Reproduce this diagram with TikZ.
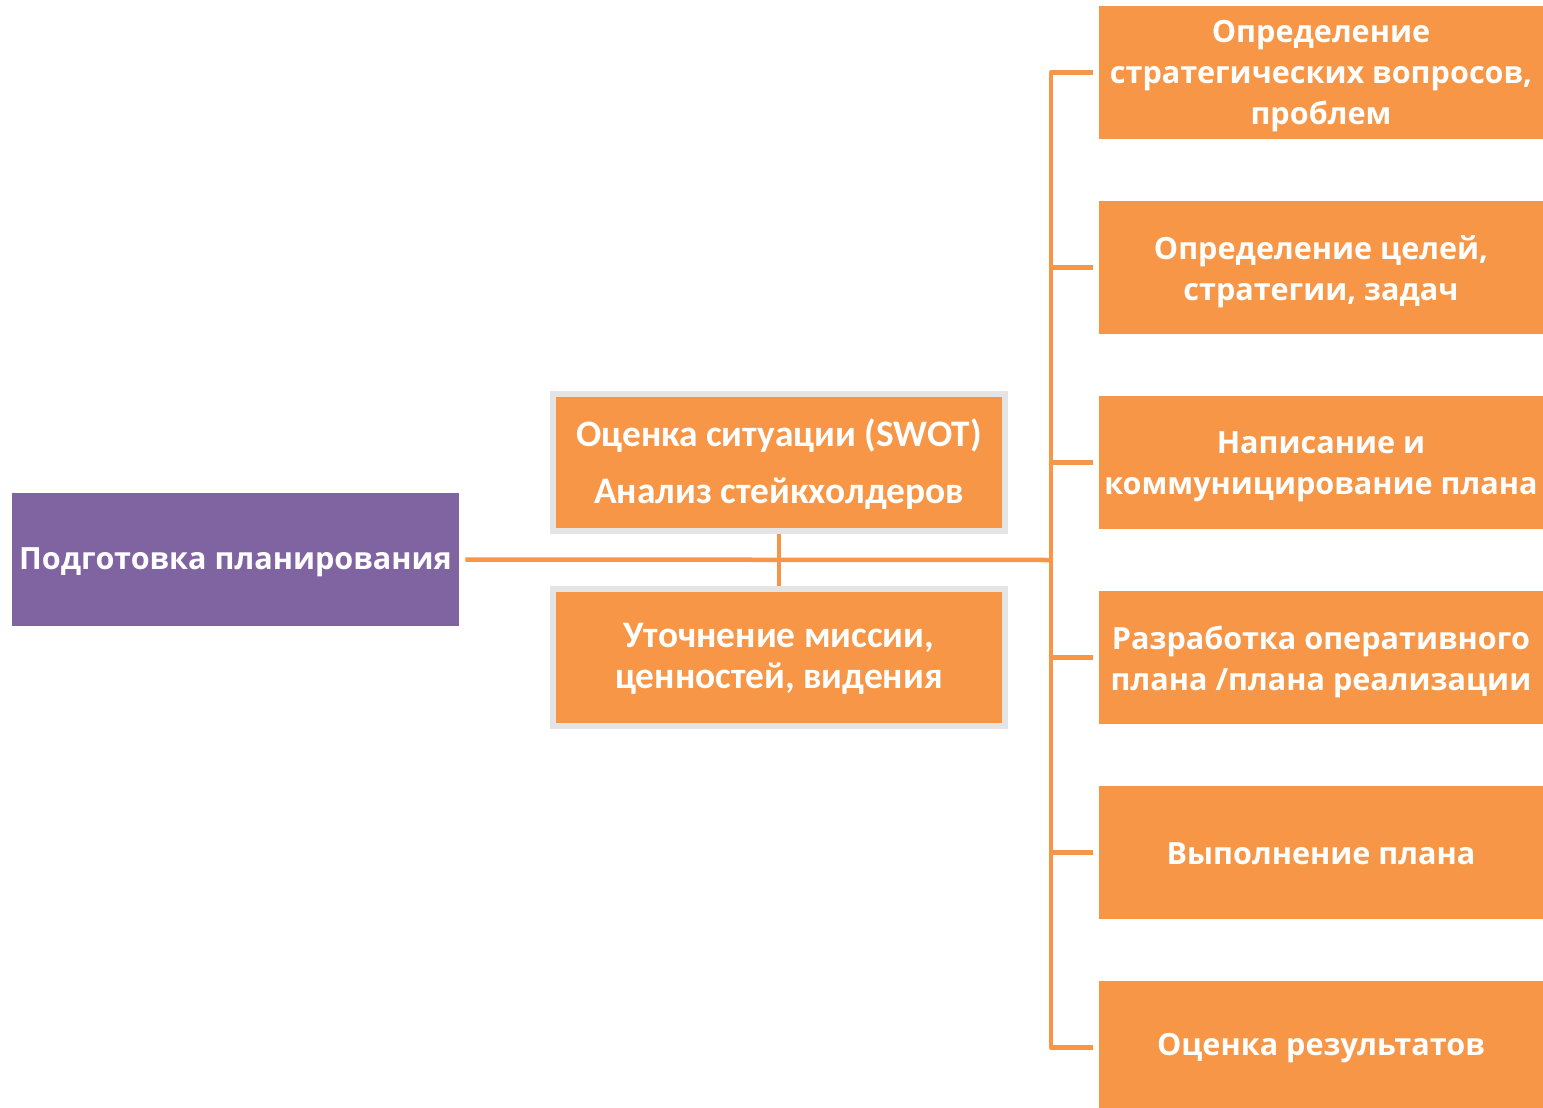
\documentclass[tikz,border=0pt]{standalone}
\usepackage{fontspec}
\newfontfamily\rfont{Open Sans}
\newfontfamily\cfont{Carlito}
\definecolor{orng}{HTML}{F79646}
\definecolor{purp}{HTML}{8064A2}
\definecolor{lgray}{HTML}{E4E4E4}
\tikzset{
  conn/.style={draw=orng, line width=2.25pt, line join=round},
  rtext/.style={text=white, align=center, inner sep=0pt, yshift=-2pt,
     font=\rfont\bfseries\fontsize{15.3}{20.5}\selectfont},
  mtext/.style={text=white, align=center, inner sep=0pt, yshift=-1pt,
     font=\cfont\bfseries\fontsize{18.7}{20.5}\selectfont},
  rbox/.style={fill=orng, draw=none, minimum width=222pt, minimum height=66.5pt, inner sep=0pt,
     label={[rtext]center:#1}},
  rboxs/.style={fill=orng, draw=none, minimum width=222pt, minimum height=66.5pt, inner sep=0pt,
     label={[rtext,yshift=1.5pt]center:#1}},
  mbox/.style={fill=orng, draw=lgray, line width=3pt, minimum width=226pt, minimum height=68.5pt, inner sep=0pt,
     label={[mtext]center:#1}},
  pbox/.style={fill=purp, draw=none, minimum width=223.5pt, minimum height=66.5pt, inner sep=0pt,
     label={[rtext,yshift=0.5pt]center:#1}}
}
\begin{document}
\begin{tikzpicture}[x=0.5pt,y=-0.5pt]
\useasboundingbox (0,0) rectangle (1543,1108);
\clip (0,0) rectangle (1543,1108);
\node[pbox={Подготовка планирования}] (prep) at (235.5,559.5) {};
\node[mbox={Оценка ситуации (SWOT)\\[8pt]Анализ стейкхолдеров}] (m1) at (779,462) {};
\node[mbox={Уточнение миссии,\\ценностей, видения}] (m2) at (779,657) {};
\node[rbox={Определение\\стратегических вопросов,\\проблем}] (r1) at (1321,72.5) {};
\node[rbox={Определение целей,\\стратегии, задач}] (r2) at (1321,267.5) {};
\node[rbox={Написание и\\коммуницирование плана}] (r3) at (1321,462.5) {};
\node[rbox={Разработка оперативного\\плана /плана реализации}] (r4) at (1321,657.5) {};
\node[rboxs={Выполнение плана}] (r5) at (1321,852.5) {};
\node[rboxs={Оценка результатов}] (r6) at (1321,1047.5) {};
\coordinate (bx) at (1051,560);
\draw[conn] ([xshift=3pt]prep.east) -- (bx);
\draw[conn] (m1.south) -- (m2.north);
\draw[conn] ([xshift=-3pt]r1.west) -| (bx) |- ([xshift=-3pt]r6.west);
\foreach \n in {r2,r3,r4,r5} {
  \draw[conn] (bx|-\n.west) -- ([xshift=-3pt]\n.west);
}
\end{tikzpicture}
\end{document}
